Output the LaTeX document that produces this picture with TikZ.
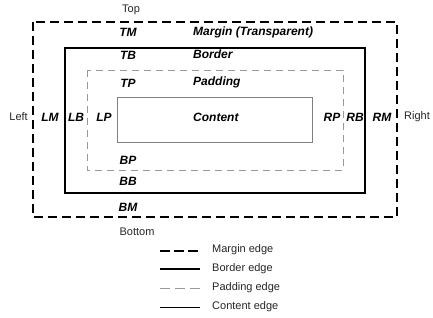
\documentclass[tikz,border=0pt]{standalone}
\usepackage{fontspec}
\setmainfont{Liberation Sans}
\usepackage{tikz}
\usetikzlibrary{positioning}

\begin{document}
\begin{tikzpicture}[
  x=1pt, y=-1pt,
  font=\fontsize{11}{13}\selectfont,
  lab/.style={font=\fontsize{12}{14}\selectfont\bfseries\itshape, inner sep=0pt},
  side/.style={inner sep=0pt, text=black!85},
  marginedge/.style={line width=2.8pt, dash pattern=on 9pt off 5pt},
  borderedge/.style={line width=2.8pt},
  paddingedge/.style={line width=0.7pt, gray!80, dash pattern=on 7pt off 5pt},
  contentedge/.style={line width=0.7pt, gray},
  keytext/.style={anchor=west, inner sep=0pt, text=black!85},
]
\useasboundingbox (0,0) rectangle (433,317);

% nested boxes
\draw[marginedge] (33,22) rectangle (397,217);
\draw[borderedge] (65,48) rectangle (365,193);
\draw[paddingedge] (87,70) rectangle (343,170);
\draw[contentedge] (117,97) rectangle (312,142);

% outer side names
\node[side] (top) at (131,10) {Top};
\node[side] (bottom) at (137,232) {Bottom};
\node[side, anchor=east] (left) at (28,117) {Left};
\node[side, anchor=west] (right) at (404,117) {Right};

% top labels
\node[lab] (tm) at (128,32) {TM};
\node[lab] (tb) at (128,55) {TB};
\node[lab] (tp) at (128,83) {TP};
\node[lab, anchor=west] (mname) at (193,32) {Margin (Transparent)};
\node[lab, anchor=west] (bname) at (193,54) {Border};
\node[lab, anchor=west] (pname) at (193,82) {Padding};
\node[lab, anchor=west] (cname) at (193,117) {Content};

% side labels
\node[lab] (lm) at (50,117) {LM};
\node[lab] (lb) at (76,117) {LB};
\node[lab] (lp) at (104,117) {LP};
\node[lab] (rp) at (332,117) {RP};
\node[lab] (rb) at (355,117) {RB};
\node[lab] (rm) at (382,117) {RM};

% bottom labels
\node[lab] (bp) at (128,160) {BP};
\node[lab] (bb) at (128,181) {BB};
\node[lab] (bm) at (128,207) {BM};

% key
\coordinate (k1a) at (160,251); \coordinate (k1b) at (200,251);
\coordinate (k2a) at (160,269); \coordinate (k2b) at (200,269);
\coordinate (k3a) at (160,288); \coordinate (k3b) at (200,288);
\coordinate (k4a) at (160,307); \coordinate (k4b) at (200,307);
\draw[marginedge, dash pattern=on 10pt off 4pt] (k1a) -- (k1b);
\draw[borderedge] (k2a) -- (k2b);
\draw[paddingedge, dash pattern=on 10pt off 5pt] (k3a) -- (k3b);
\draw[line width=0.8pt] (k4a) -- (k4b);
\node[keytext] (k1) at (212,250) {Margin edge};
\node[keytext] (k2) at (212,269) {Border edge};
\node[keytext] (k3) at (212,288) {Padding edge};
\node[keytext] (k4) at (212,307) {Content edge};
\end{tikzpicture}
\end{document}
